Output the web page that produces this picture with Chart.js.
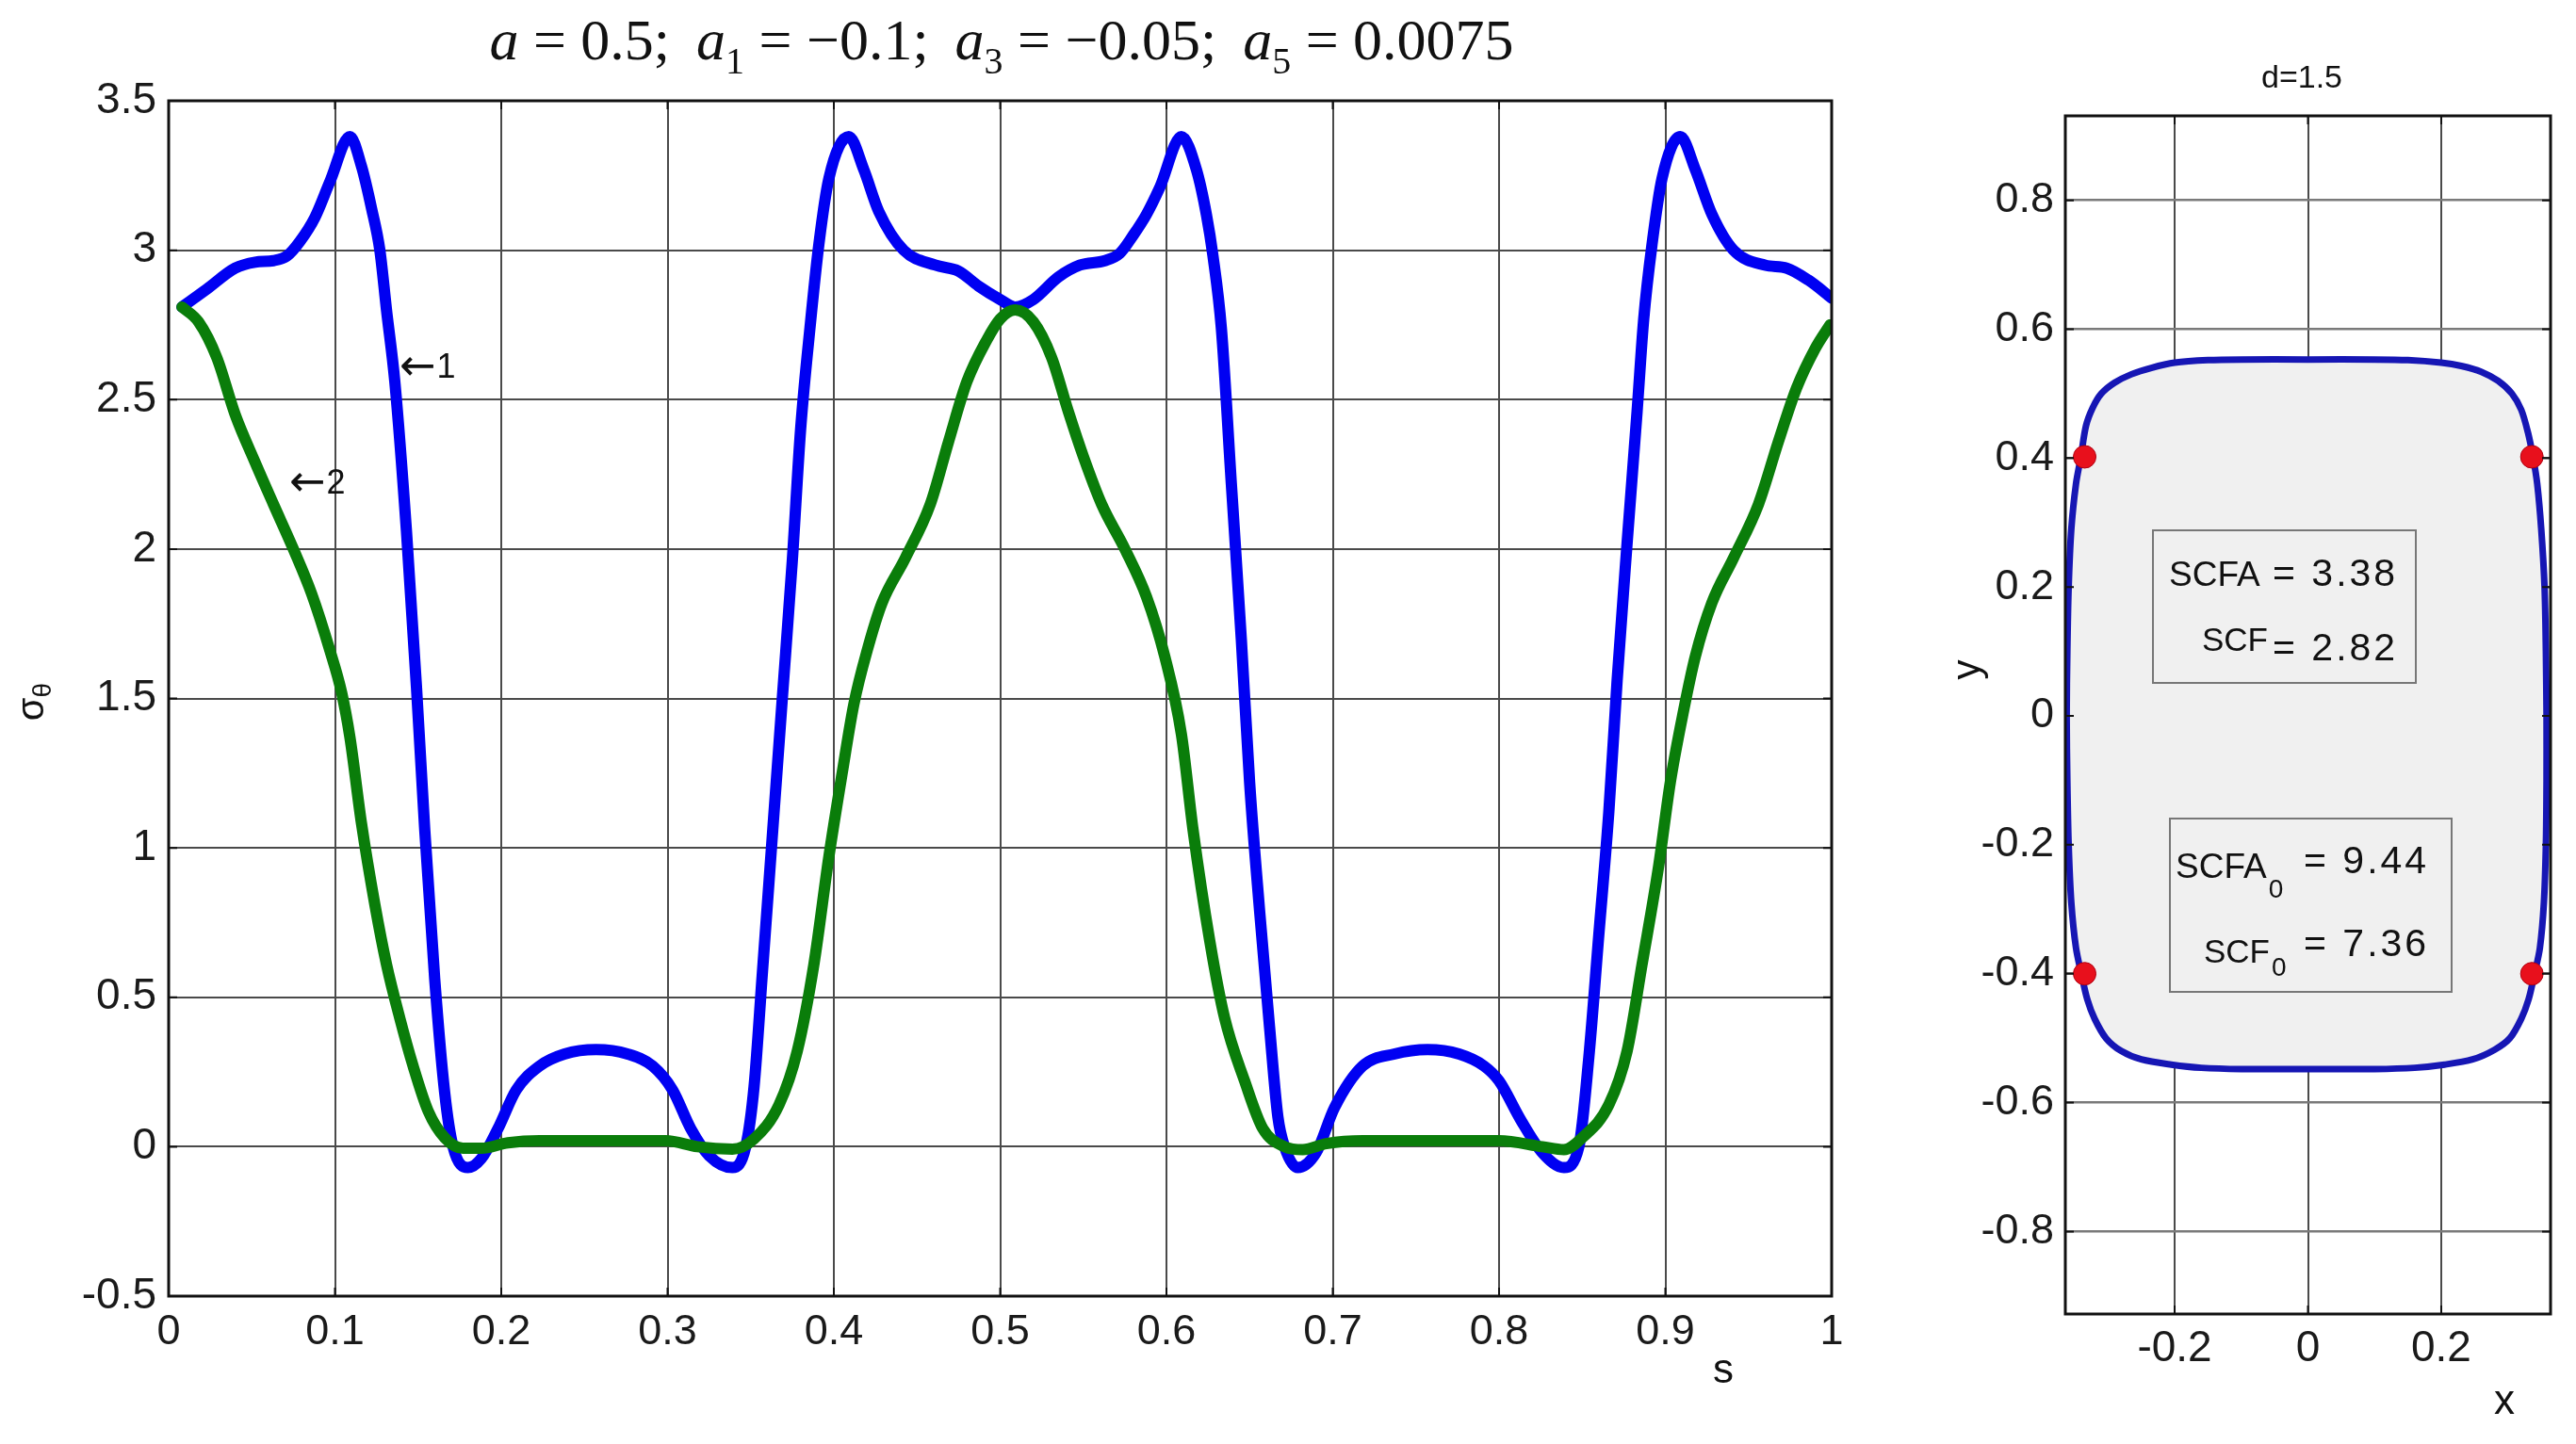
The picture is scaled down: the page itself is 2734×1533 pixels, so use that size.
<!DOCTYPE html>
<html><head><meta charset="utf-8">
<script src="https://cdn.jsdelivr.net/npm/chart.js@4.4.1/dist/chart.umd.min.js"></script>
<style>
html,body{margin:0;padding:0;background:#fff;}
body{width:2734px;height:1533px;position:relative;overflow:hidden;}
#c1{position:absolute;left:0;top:0;width:2050px;height:1533px;}
#c2{position:absolute;left:2050px;top:0;width:684px;height:1533px;}
</style></head><body>
<canvas id="c1" width="2050" height="1533"></canvas>
<canvas id="c2" width="684" height="1533"></canvas>
<script>
// ---------- DATA: left chart (sigma_theta vs s) ----------
const sBlue = [0.008,0.023,0.040,0.052,0.063,0.071,0.079,0.088,0.097,0.109,0.116,0.122,0.127,0.131,0.136,0.143,0.149,0.154,0.160,0.166,0.171,0.180,0.188,0.198,0.209,0.223,0.238,0.257,0.276,0.291,0.303,0.314,0.325,0.339,0.347,0.352,0.357,0.363,0.369,0.375,0.380,0.386,0.391,0.397,0.409,0.418,0.427,0.442,0.461,0.475,0.487,0.500,
  0.509,0.520,0.535,0.548,0.563,0.572,0.580,0.588,0.596,0.609,0.618,0.624,0.628,0.633,0.639,0.645,0.650,0.656,0.662,0.667,0.671,0.679,0.690,0.701,0.718,0.737,0.757,0.776,0.791,0.800,0.813,0.826,0.839,0.848,0.854,0.860,0.866,0.871,0.877,0.883,0.887,0.892,0.898,0.909,0.918,0.928,0.941,0.960,0.973,0.986,1.000];
const sigmaBlue = [2.81,2.87,2.94,2.96,2.965,2.98,3.03,3.11,3.23,3.38,3.28,3.14,3.00,2.80,2.56,2.06,1.54,1.06,0.56,0.18,0.00,-0.07,-0.04,0.06,0.19,0.27,0.31,0.325,0.31,0.27,0.19,0.06,-0.03,-0.07,0.00,0.20,0.58,1.04,1.50,1.96,2.40,2.76,3.02,3.24,3.38,3.27,3.13,3.00,2.95,2.93,2.88,2.835,
  2.81,2.835,2.91,2.95,2.965,2.99,3.05,3.12,3.21,3.38,3.27,3.12,2.98,2.74,2.22,1.70,1.22,0.79,0.40,0.10,0.00,-0.07,-0.02,0.13,0.27,0.31,0.325,0.31,0.27,0.22,0.09,-0.02,-0.07,0.00,0.30,0.71,1.12,1.56,2.02,2.46,2.77,3.02,3.24,3.38,3.27,3.12,3.00,2.95,2.94,2.90,2.84];
const sGreen = [0.008,0.018,0.029,0.040,0.052,0.063,0.075,0.086,0.097,0.104,0.109,0.116,0.124,0.131,0.139,0.147,0.156,0.166,0.177,0.188,0.204,0.223,0.257,0.299,0.318,0.339,0.352,0.367,0.378,0.388,0.397,0.405,0.412,0.420,0.429,0.443,0.458,0.469,0.480,0.492,0.500,
  0.509,0.520,0.531,0.541,0.550,0.561,0.575,0.588,0.599,0.609,0.616,0.626,0.635,0.647,0.658,0.671,0.682,0.696,0.718,0.757,0.800,0.826,0.839,0.850,0.866,0.877,0.886,0.896,0.903,0.911,0.918,0.928,0.941,0.956,0.968,0.979,0.990,0.999];
const sigmaGreen = [2.81,2.76,2.64,2.45,2.29,2.15,2.00,1.85,1.66,1.52,1.37,1.08,0.81,0.61,0.43,0.27,0.12,0.03,-0.005,-0.005,0.013,0.02,0.02,0.02,0.00,-0.008,0.026,0.14,0.32,0.61,0.97,1.25,1.48,1.66,1.82,1.97,2.15,2.36,2.56,2.70,2.77,
  2.80,2.76,2.64,2.46,2.31,2.15,2.00,1.84,1.64,1.38,1.06,0.69,0.43,0.22,0.06,0.00,-0.01,0.01,0.02,0.02,0.02,0.00,-0.01,0.03,0.14,0.32,0.61,0.94,1.22,1.46,1.64,1.82,1.97,2.15,2.36,2.54,2.67,2.75];
const sTicks = [0,0.1,0.2,0.3,0.4,0.5,0.6,0.7,0.8,0.9,1];
const sTickLabels = ['0','0.1','0.2','0.3','0.4','0.5','0.6','0.7','0.8','0.9','1'];
const sigmaTicks = [-0.5,0,0.5,1,1.5,2,2.5,3,3.5];
const sigmaTickLabels = ['-0.5','0','0.5','1','1.5','2','2.5','3','3.5'];
const titleParts = [
  {t:'a',it:true},{t:' = 0.5; \u2009'},
  {t:'a',it:true},{t:'1',sub:true},{t:' = \u22120.1; \u2009'},
  {t:'a',it:true},{t:'3',sub:true},{t:' = \u22120.05; \u2009'},
  {t:'a',it:true},{t:'5',sub:true},{t:' = 0.0075'}
];

// ---------- DATA: right chart (hole contour) ----------
const contourX = [0.358,0.357,0.355,0.350,0.344,0.338,0.330,0.320,0.306,0.285,0.260,0.230,0.200,0.150,0.100,0.000,-0.100,-0.150,-0.200,-0.235,-0.265,-0.290,-0.310,-0.323,-0.333,-0.341,-0.348,-0.355,-0.359,-0.361,-0.362,-0.361,-0.359,-0.355,-0.348,-0.340,-0.331,-0.320,-0.303,-0.280,-0.250,-0.205,-0.160,-0.100,0.000,0.100,0.160,0.205,0.247,0.280,0.303,0.320,0.331,0.340,0.348,0.354,0.357,0.358,0.358];
const contourY = [0.000,0.100,0.200,0.290,0.360,0.400,0.440,0.475,0.500,0.520,0.534,0.543,0.548,0.552,0.553,0.553,0.553,0.552,0.548,0.540,0.530,0.517,0.500,0.478,0.450,0.400,0.360,0.290,0.200,0.100,0.000,-0.100,-0.200,-0.290,-0.360,-0.400,-0.440,-0.470,-0.500,-0.520,-0.533,-0.541,-0.546,-0.548,-0.548,-0.548,-0.546,-0.541,-0.533,-0.518,-0.500,-0.470,-0.440,-0.400,-0.360,-0.290,-0.200,-0.100,0.000];
const dotX = [-0.335,0.336,-0.335,0.336];
const dotY = [0.402,0.402,-0.400,-0.400];
const xTicksR = [-0.2,0,0.2];
const xTickLabelsR = ['-0.2','0','0.2'];
const yTicksR = [-0.8,-0.6,-0.4,-0.2,0,0.2,0.4,0.6,0.8];
const yTickLabelsR = ['-0.8','-0.6','-0.4','-0.2','0','0.2','0.4','0.6','0.8'];
const scfaText = ['SCFA','= 3.38','SCF','= 2.82'];
const scfa0Text = ['SCFA','0','= 9.44','SCF','0','= 7.36'];

// ---------- helpers ----------
const SANS = '"Liberation Sans", Arial, sans-serif';
const SERIF = '"Liberation Serif", "Times New Roman", serif';
const pts = (xs, ys) => xs.map((x, i) => ({x, y: ys[i]}));

function framePlugin(xT, yT){
  return {id:'frame', afterDatasetsDraw(chart){
    const {ctx, chartArea:a, scales} = chart;
    ctx.save();
    ctx.strokeStyle = '#111'; ctx.lineWidth = 3;
    ctx.strokeRect(a.left, a.top, a.right - a.left, a.bottom - a.top);
    ctx.lineWidth = 2; ctx.beginPath();
    xT.forEach(v => { const p = scales.x.getPixelForValue(v);
      ctx.moveTo(p, a.bottom); ctx.lineTo(p, a.bottom - 9);
      ctx.moveTo(p, a.top); ctx.lineTo(p, a.top + 9); });
    yT.forEach(v => { const p = scales.y.getPixelForValue(v);
      ctx.moveTo(a.left, p); ctx.lineTo(a.left + 9, p);
      ctx.moveTo(a.right, p); ctx.lineTo(a.right - 9, p); });
    ctx.stroke(); ctx.restore();
  }};
}

const leftText = {id:'leftText', afterDraw(chart){
  const ctx = chart.ctx; ctx.save();
  ctx.fillStyle = '#111';
  // title with italic a and subscripts
  const big = 62, small = 40;
  const fontFor = p => p.sub ? `${small}px ${SERIF}` : (p.it ? `italic ${big}px ${SERIF}` : `${big}px ${SERIF}`);
  let total = 0;
  titleParts.forEach(p => { ctx.font = fontFor(p); total += ctx.measureText(p.t).width; });
  let x = 1063 - total / 2;
  ctx.textBaseline = 'alphabetic'; ctx.textAlign = 'left';
  titleParts.forEach(p => { ctx.font = fontFor(p); ctx.fillText(p.t, x, p.sub ? 78 : 63); x += ctx.measureText(p.t).width; });
  // curve annotations
  ctx.textBaseline = 'middle';
  const ann = (label, x0, y0) => {
    ctx.font = `46px "DejaVu Sans", ${SANS}`; ctx.fillText('\u2190', x0, y0);
    const w = ctx.measureText('\u2190').width;
    ctx.font = `36px ${SANS}`; ctx.fillText(label, x0 + w + 1, y0);
  };
  ann('1', 424, 391);
  ann('2', 307, 514);
  // x axis label
  ctx.font = `44px ${SANS}`; ctx.textAlign = 'center';
  ctx.fillText('s', 1829, 1456);
  // y axis label sigma_theta
  ctx.translate(40, 745); ctx.rotate(-Math.PI / 2);
  ctx.textAlign = 'left'; ctx.textBaseline = 'alphabetic';
  ctx.font = `40px ${SANS}`; const w1 = ctx.measureText('\u03C3').width;
  ctx.font = `28px ${SANS}`; const w2 = ctx.measureText('\u03B8').width;
  const x0 = -(w1 + w2) / 2;
  ctx.font = `40px ${SANS}`; ctx.fillText('\u03C3', x0, 6);
  ctx.font = `28px ${SANS}`; ctx.fillText('\u03B8', x0 + w1, 14);
  ctx.restore();
}};

const rightText = {id:'rightText', afterDatasetsDraw(chart){
  const ctx = chart.ctx; ctx.save();
  // boxes
  ctx.fillStyle = '#f0f0f0'; ctx.strokeStyle = '#777'; ctx.lineWidth = 2;
  ctx.fillRect(235, 563, 279, 162); ctx.strokeRect(235, 563, 279, 162);
  ctx.fillRect(253, 869, 299, 184); ctx.strokeRect(253, 869, 299, 184);
  ctx.fillStyle = '#111'; ctx.textAlign = 'left'; ctx.textBaseline = 'alphabetic';
  const setLS = v => { try { ctx.letterSpacing = v; } catch(e) {} };
  setLS('0px');
  const withSub = (main, sub, x0, yMain, ySub, fMain) => {
    ctx.font = `${fMain}px ${SANS}`; ctx.fillText(main, x0, yMain);
    const w = ctx.measureText(main).width;
    if (sub) { ctx.font = `28px ${SANS}`; ctx.fillText(sub, x0 + w + 2, ySub); }
  };
  withSub(scfaText[0], null, 252, 622, 0, 37);
  withSub(scfaText[2], null, 287, 691, 0, 35);
  withSub(scfa0Text[0], scfa0Text[1], 259, 932, 953, 37);
  withSub(scfa0Text[3], scfa0Text[4], 289, 1022, 1036, 35);
  setLS('3px');
  ctx.font = `41px ${SANS}`; ctx.fillText(scfaText[1], 362, 622);
  ctx.font = `41px ${SANS}`; ctx.fillText(scfaText[3], 362, 701);
  ctx.font = `41px ${SANS}`; ctx.fillText(scfa0Text[2], 395, 927);
  ctx.font = `41px ${SANS}`; ctx.fillText(scfa0Text[5], 395, 1015);
  ctx.restore();
}, afterDraw(chart){
  const ctx = chart.ctx; ctx.save();
  ctx.fillStyle = '#111'; ctx.textAlign = 'center'; ctx.textBaseline = 'middle';
  ctx.font = `34px ${SANS}`; ctx.fillText('d=1.5', 393, 84);
  ctx.font = `44px ${SANS}`; ctx.fillText('x', 608, 1489);
  ctx.translate(39, 711); ctx.rotate(-Math.PI / 2);
  ctx.font = `42px ${SANS}`; ctx.fillText('y', 0, 0);
  ctx.restore();
}};

// ---------- left chart ----------
new Chart(document.getElementById('c1'), {
  type: 'scatter',
  data: { datasets: [
    { label: '2', data: pts(sGreen, sigmaGreen), showLine: true, borderColor: '#0a7d0a', borderWidth: 12,
      pointRadius: 0, cubicInterpolationMode: 'monotone', borderCapStyle: 'round', borderJoinStyle: 'round' },
    { label: '1', data: pts(sBlue, sigmaBlue), showLine: true, borderColor: '#0000f2', borderWidth: 12,
      pointRadius: 0, cubicInterpolationMode: 'monotone', borderCapStyle: 'round', borderJoinStyle: 'round' }
  ]},
  options: {
    responsive: false, animation: false, devicePixelRatio: 1,
    layout: { padding: { left: 0, top: 107, right: 106, bottom: 0 } },
    plugins: { legend: { display: false }, tooltip: { enabled: false } },
    scales: {
      x: { type: 'linear', min: 0, max: 1,
        afterBuildTicks: s => { s.ticks = sTicks.map(v => ({value: v})); },
        afterFit: s => { s.height = 157; },
        ticks: { callback: (v, i) => sTickLabels[i], font: { family: SANS, size: 45 }, color: '#1a1a1a', padding: 12, maxRotation: 0, minRotation: 0, autoSkip: false },
        grid: { color: '#4a4a4a', lineWidth: 2, drawTicks: false }, border: { display: false } },
      y: { type: 'linear', min: -0.5, max: 3.5,
        afterBuildTicks: s => { s.ticks = sigmaTicks.map(v => ({value: v})); },
        afterFit: s => { s.width = 179; },
        ticks: { callback: (v, i) => sigmaTickLabels[i], font: { family: SANS, size: 46 }, color: '#1a1a1a', padding: 13, autoSkip: false },
        grid: { color: '#4a4a4a', lineWidth: 2, drawTicks: false }, border: { display: false } }
    }
  },
  plugins: [framePlugin(sTicks, sigmaTicks), leftText]
});

// ---------- right chart ----------
new Chart(document.getElementById('c2'), {
  type: 'scatter',
  data: { datasets: [
    { label: 'dots', data: pts(dotX, dotY), pointRadius: 12, pointBackgroundColor: '#e8101c', pointBorderColor: '#b00010', pointBorderWidth: 1 },
    { label: 'contour', data: pts(contourX, contourY), showLine: true, borderColor: '#1616b4', borderWidth: 7,
      backgroundColor: '#f0f0f0', fill: 'shape', tension: 0.3, pointRadius: 0, borderJoinStyle: 'round' }
  ]},
  options: {
    responsive: false, animation: false, devicePixelRatio: 1,
    layout: { padding: { left: 0, top: 123, right: 27, bottom: 0 } },
    plugins: { legend: { display: false }, tooltip: { enabled: false } },
    scales: {
      x: { type: 'linear', min: -0.364, max: 0.364,
        afterBuildTicks: s => { s.ticks = xTicksR.map(v => ({value: v})); },
        afterFit: s => { s.height = 138; },
        ticks: { callback: (v, i) => xTickLabelsR[i], font: { family: SANS, size: 46 }, color: '#1a1a1a', padding: 10, maxRotation: 0, minRotation: 0, autoSkip: false },
        grid: { color: '#4a4a4a', lineWidth: 2, drawTicks: false }, border: { display: false } },
      y: { type: 'linear', min: -0.928, max: 0.931,
        afterBuildTicks: s => { s.ticks = yTicksR.map(v => ({value: v})); },
        afterFit: s => { s.width = 142; },
        ticks: { callback: (v, i) => yTickLabelsR[i], font: { family: SANS, size: 45 }, color: '#1a1a1a', padding: 12, autoSkip: false },
        grid: { color: '#7a7a7a', lineWidth: 2.5, drawTicks: false }, border: { display: false } }
    }
  },
  plugins: [framePlugin(xTicksR, yTicksR), rightText]
});
</script>
</body></html>
